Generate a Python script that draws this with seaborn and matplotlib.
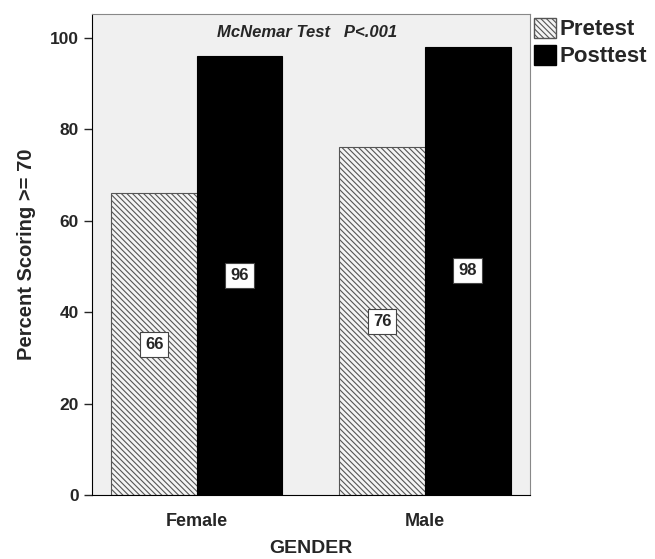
import pandas as pd
import matplotlib
matplotlib.use("Agg")
import matplotlib.pyplot as plt
import seaborn as sns
from matplotlib.patches import Patch

gender = ["Female", "Male"]
tests = ["Pretest", "Posttest"]
pretest = [66, 76]
posttest = [96, 98]

df = pd.DataFrame({
    "GENDER": gender * 2,
    "Test": ["Pretest"] * 2 + ["Posttest"] * 2,
    "Percent": pretest + posttest,
})

sns.set_style("ticks")
plt.rcParams["font.family"] = ["Liberation Sans", "DejaVu Sans"]
plt.rcParams["hatch.color"] = "#555555"
plt.rcParams["hatch.linewidth"] = 0.8

fig = plt.figure(figsize=(6.55, 5.59), dpi=100)
ax = fig.add_axes([0.1405, 0.1145, 0.6685, 0.8605])
ax.set_facecolor("#f0f0f0")

sns.barplot(data=df, x="GENDER", y="Percent", hue="Test", hue_order=tests,
            palette={"Pretest": "#f4f4f4", "Posttest": "black"},
            width=0.75, edgecolor="#555555", linewidth=0.8, legend=False, ax=ax)

# hatch the pretest bars
for bar in ax.containers[0]:
    bar.set_hatch("\\\\\\\\\\\\")
for bar in ax.containers[1]:
    bar.set_edgecolor("black")

for cont in ax.containers:
    for bar in cont:
        h = bar.get_height()
        ax.text(bar.get_x() + bar.get_width() / 2, h / 2, f"{h:.0f}",
                ha="center", va="center", fontsize=12, fontweight="bold",
                bbox=dict(boxstyle="square,pad=0.3", fc="white", ec="#444444", lw=0.8))

ax.set_ylim(0, 105.2)
ax.set_xlim(-0.46, 1.46)
ax.set_yticks([0, 20, 40, 60, 80, 100])
ax.set_xlabel("GENDER", fontsize=14, fontweight="bold", labelpad=7)
ax.set_ylabel("Percent Scoring >= 70", fontsize=14.5, fontweight="bold", labelpad=10)
ax.tick_params(axis="y", labelsize=12.5, length=6, width=1)
ax.tick_params(axis="x", labelsize=13, length=0, pad=13)
for lab in ax.get_xticklabels() + ax.get_yticklabels():
    lab.set_fontweight("bold")
for s in ax.spines.values():
    s.set_visible(True)
    s.set_color("#888888")
ax.spines["left"].set_color("black")
ax.spines["bottom"].set_color("black")

ax.text(0.49, 0.978, "McNemar Test   P<.001", transform=ax.transAxes,
        ha="center", va="top", fontsize=12, fontweight="bold", style="italic")

handles = [Patch(facecolor="#f4f4f4", edgecolor="#555555", hatch="\\\\\\\\\\\\", label="Pretest"),
           Patch(facecolor="black", edgecolor="black", label="Posttest")]
fig.legend(handles=handles, loc="upper left", bbox_to_anchor=(0.815, 0.968),
           frameon=False, prop={"weight": "bold", "size": 16},
           handlelength=1.0, handleheight=1.0, handletextpad=0.15, labelspacing=0.2,
           borderaxespad=0, borderpad=0)

fig.savefig("out.png", dpi=100)
